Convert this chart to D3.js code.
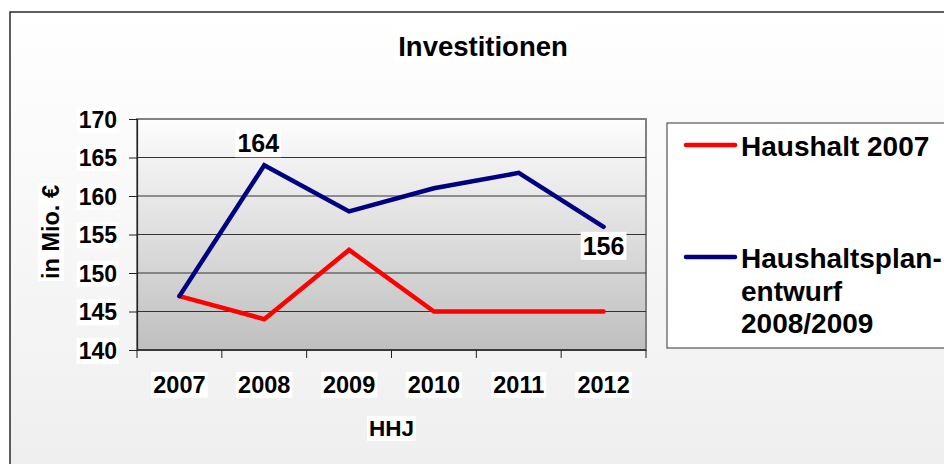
<!DOCTYPE html>
<html>
<head>
<meta charset="utf-8">
<script src="https://cdn.jsdelivr.net/npm/d3@7"></script>
<style>
  body { margin: 0; background: #fff; }
  svg { display: block; font-family: "Liberation Sans", Arial, sans-serif; font-weight: bold; }
</style>
</head>
<body>
<svg id="chart" width="944" height="464"></svg>
<script>
// data
var years = ["2007", "2008", "2009", "2010", "2011", "2012"];
var haushalt2007 = [147, 144, 153, 145, 145, 145];
var planentwurf = [147, 164, 158, 161, 163, 156];
var yTicks = [140, 145, 150, 155, 160, 165, 170];
var seriesNames = ["Haushalt 2007", "Haushaltsplan-\nentwurf\n2008/2009"];
var seriesColors = ["#ff0000", "#000080"];

function drawChart() {
  var svg = d3.select("#chart");
  var defs = svg.append("defs");

  var outerGrad = defs.append("linearGradient").attr("id", "outerGrad")
      .attr("x1", 0).attr("y1", 0).attr("x2", 0).attr("y2", 1);
  outerGrad.append("stop").attr("offset", "0%").attr("stop-color", "#ffffff");
  outerGrad.append("stop").attr("offset", "100%").attr("stop-color", "#eeeeee");

  var plotGrad = defs.append("linearGradient").attr("id", "plotGrad")
      .attr("x1", 0).attr("y1", 0).attr("x2", 0).attr("y2", 1);
  plotGrad.append("stop").attr("offset", "0%").attr("stop-color", "#fdfdfd");
  plotGrad.append("stop").attr("offset", "100%").attr("stop-color", "#bfbfbf");

  // chart area frame
  svg.append("rect")
      .attr("x", 10).attr("y", 12).attr("width", 960).attr("height", 480)
      .attr("fill", "url(#outerGrad)")
      .attr("stroke", "#2a2a2a").attr("stroke-width", 1.5);

  var pLeft = 137, pRight = 646, pTop = 119, pBottom = 350;

  var x = d3.scaleBand().domain(years).range([pLeft, pRight]);
  var y = d3.scaleLinear().domain([140, 170]).range([pBottom, pTop]);

  function px(d, i) { return x(years[i]) + x.bandwidth() / 2; }

  // plot area
  svg.append("rect")
      .attr("x", pLeft).attr("y", pTop)
      .attr("width", pRight - pLeft).attr("height", pBottom - pTop)
      .attr("fill", "url(#plotGrad)")
      .attr("stroke", "#808080").attr("stroke-width", 2);

  // gridlines
  svg.append("g").selectAll("line")
      .data(yTicks.slice(1, -1))
    .enter()
    .append("line")
      .attr("x1", pLeft).attr("x2", pRight)
      .attr("y1", function(d) { return y(d); })
      .attr("y2", function(d) { return y(d); })
      .attr("stroke", "#333").attr("stroke-width", 1);

  // y axis
  var yAxis = svg.append("g")
      .attr("transform", "translate(" + pLeft + ",0)")
      .call(d3.axisLeft(y).tickValues(yTicks).tickSize(8).tickPadding(12));
  yAxis.select(".domain").attr("stroke", "#222").attr("stroke-width", 1.2);
  yAxis.selectAll(".tick line").attr("stroke", "#222");
  yAxis.selectAll("text").attr("font-size", 23).attr("font-family", null)
      .attr("font-weight", "bold").attr("fill", "#000").attr("dy", "0.36em");
  yAxis.attr("font-family", null).attr("font-size", null);

  // x axis with ticks between categories
  var xAxis = svg.append("g")
      .attr("transform", "translate(0," + pBottom + ")");
  xAxis.append("line")
      .attr("x1", pLeft).attr("x2", pRight)
      .attr("stroke", "#222").attr("stroke-width", 1.5);
  var bounds = years.map(function(d) { return x(d); }).concat([pRight]);
  xAxis.selectAll(".tk").data(bounds)
    .enter()
    .append("line")
      .attr("class", "tk")
      .attr("x1", function(d) { return d; }).attr("x2", function(d) { return d; })
      .attr("y1", 0).attr("y2", 8)
      .attr("stroke", "#222");
  xAxis.selectAll(".lbl").data(years)
    .enter()
    .append("text")
      .attr("class", "lbl")
      .attr("x", function(d) { return x(d) + x.bandwidth() / 2; })
      .attr("y", 43)
      .attr("text-anchor", "middle")
      .attr("font-size", 23.5)
      .text(function(d) { return d; });

  // lines
  var line = d3.line()
      .x(px)
      .y(function(d) { return y(d); });

  [haushalt2007, planentwurf].forEach(function(series, k) {
    svg.append("path")
        .datum(series)
        .attr("d", line)
        .attr("fill", "none")
        .attr("stroke", seriesColors[k])
        .attr("stroke-width", 4.5)
        .attr("stroke-linecap", "round")
        .attr("stroke-linejoin", "miter");
  });

  // data labels on the plan line
  var labels = svg.append("g");
  labels.append("text")
      .attr("x", px(null, 1) - 6).attr("y", y(planentwurf[1]) - 13)
      .attr("text-anchor", "middle").attr("font-size", 25)
      .text(planentwurf[1]);
  labels.append("text")
      .attr("x", px(null, 5)).attr("y", y(planentwurf[5]) + 28)
      .attr("text-anchor", "middle").attr("font-size", 25)
      .text(planentwurf[5]);

  // titles
  svg.append("text")
      .attr("x", 483).attr("y", 56)
      .attr("text-anchor", "middle").attr("font-size", 27.5)
      .text("Investitionen");
  svg.append("text")
      .attr("x", (pLeft + pRight) / 2).attr("y", 436)
      .attr("text-anchor", "middle").attr("font-size", 22.5)
      .text("HHJ");
  svg.append("text")
      .attr("transform", "translate(59,232) rotate(-90)")
      .attr("text-anchor", "middle").attr("font-size", 23.5)
      .text("in Mio. €");

  // legend
  var legend = svg.append("g");
  legend.append("rect")
      .attr("x", 667).attr("y", 123).attr("width", 300).attr("height", 225)
      .attr("fill", "#fff").attr("stroke", "#555").attr("stroke-width", 1.2);
  var legendY = [145, 257];
  seriesNames.forEach(function(name, k) {
    legend.append("line")
        .attr("x1", 686).attr("x2", 735)
        .attr("y1", legendY[k]).attr("y2", legendY[k])
        .attr("stroke", seriesColors[k]).attr("stroke-width", 4.5)
        .attr("stroke-linecap", "round");
    var t = legend.append("text")
        .attr("x", 741).attr("y", legendY[k] + 11)
        .attr("font-size", 28);
    name.split("\n").forEach(function(part, j) {
      t.append("tspan")
          .attr("x", 741)
          .attr("dy", j == 0 ? 0 : 32.5)
          .text(part);
    });
  });

  // white boxes behind text, like in the original export
  svg.selectAll("text").each(function() {
    if (this.parentNode === legend.node()) return;
    var node = this;
    var b = node.getBBox();
    var box = d3.select(node.parentNode).insert("rect", function() { return node; })
        .attr("x", b.x - 2).attr("y", b.y)
        .attr("width", b.width + 4).attr("height", b.height)
        .attr("fill", "#fff");
    var tr = d3.select(node).attr("transform");
    if (tr) box.attr("transform", tr);
  });
}

drawChart();
</script>
</body>
</html>
